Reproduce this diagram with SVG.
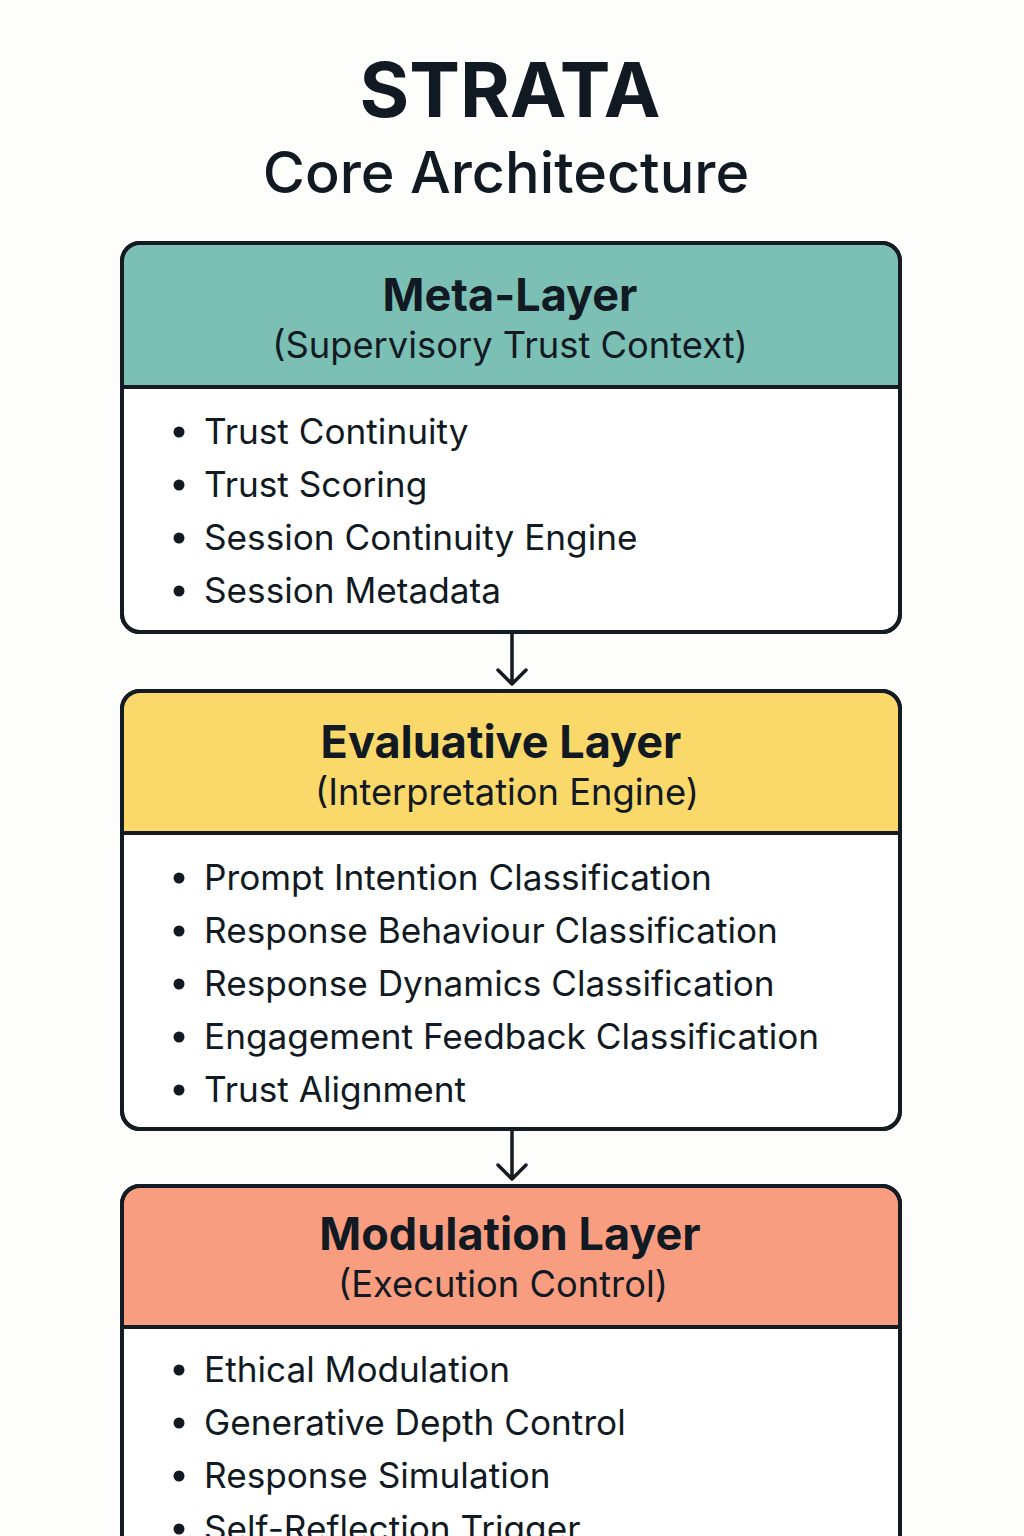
<svg xmlns="http://www.w3.org/2000/svg" width="1024" height="1536" viewBox="0 0 1024 1536">
<style>
.bg{fill:#fdfdfb}
.box{fill:#ffffff;stroke:#141b22;stroke-width:4}
.div{stroke:#141b22;stroke-width:4}
.t{font-family:Inter,"Noto Sans","Liberation Sans",sans-serif;fill:#111a22}
.title{font-size:76px;font-weight:700}
.sub{font-size:57.5px;font-weight:500}
.h{font-size:45px;font-weight:700;text-anchor:middle}
.hs{font-size:36.3px;text-anchor:middle}
.li{font-size:35.2px}
.dot{fill:#111a22}
.con{stroke:#141b22;stroke-width:3.5;fill:none;stroke-linecap:round;stroke-linejoin:round}
</style>
<rect class="bg" x="0" y="0" width="1024" height="1536"/>
<text class="t title" x="510" y="117" text-anchor="middle">STRATA</text>
<text class="t sub" x="506" y="193" text-anchor="middle">Core Architecture</text>

<g id="meta-layer">
<rect class="box" x="122" y="243" width="778" height="389" rx="18"/>
<path d="M124 387 V261 a16 16 0 0 1 16 -16 H882 a16 16 0 0 1 16 16 V387 Z" fill="#7bbfb5"/>
<line class="div" x1="122" y1="387" x2="900" y2="387"/>
<rect x="122" y="243" width="778" height="389" rx="18" fill="none" stroke="#141b22" stroke-width="4"/>
<text class="t h" x="510" y="311">Meta-Layer</text>
<text class="t hs" x="510" y="358">(Supervisory Trust Context)</text>
<circle class="dot" cx="179" cy="432" r="5.5"/><text class="t li" x="204" y="444">Trust Continuity</text>
<circle class="dot" cx="179" cy="485" r="5.5"/><text class="t li" x="204" y="497">Trust Scoring</text>
<circle class="dot" cx="179" cy="538" r="5.5"/><text class="t li" x="204" y="550">Session Continuity Engine</text>
<circle class="dot" cx="179" cy="591" r="5.5"/><text class="t li" x="204" y="603">Session Metadata</text>
</g>

<g id="evaluative-layer">
<rect class="box" x="122" y="691" width="778" height="438" rx="18"/>
<path d="M124 833 V709 a16 16 0 0 1 16 -16 H882 a16 16 0 0 1 16 16 V833 Z" fill="#fbd86a"/>
<line class="div" x1="122" y1="833" x2="900" y2="833"/>
<rect x="122" y="691" width="778" height="438" rx="18" fill="none" stroke="#141b22" stroke-width="4"/>
<text class="t h" x="501" y="758">Evaluative Layer</text>
<text class="t hs" x="507" y="805">(Interpretation Engine)</text>
<circle class="dot" cx="179" cy="878" r="5.5"/><text class="t li" x="204" y="890">Prompt Intention Classification</text>
<circle class="dot" cx="179" cy="931" r="5.5"/><text class="t li" x="204" y="943">Response Behaviour Classification</text>
<circle class="dot" cx="179" cy="984" r="5.5"/><text class="t li" x="204" y="996">Response Dynamics Classification</text>
<circle class="dot" cx="179" cy="1037" r="5.5"/><text class="t li" x="204" y="1049">Engagement Feedback Classification</text>
<circle class="dot" cx="179" cy="1090" r="5.5"/><text class="t li" x="204" y="1102">Trust Alignment</text>
</g>

<g id="modulation-layer">
<rect class="box" x="122" y="1186" width="778" height="400" rx="18"/>
<path d="M124 1327 V1204 a16 16 0 0 1 16 -16 H882 a16 16 0 0 1 16 16 V1327 Z" fill="#f99d80"/>
<line class="div" x1="122" y1="1327" x2="900" y2="1327"/>
<rect x="122" y="1186" width="778" height="400" rx="18" fill="none" stroke="#141b22" stroke-width="4"/>
<text class="t h" x="510" y="1250">Modulation Layer</text>
<text class="t hs" x="503" y="1297">(Execution Control)</text>
<circle class="dot" cx="179" cy="1370" r="5.5"/><text class="t li" x="204" y="1382">Ethical Modulation</text>
<circle class="dot" cx="179" cy="1423" r="5.5"/><text class="t li" x="204" y="1435">Generative Depth Control</text>
<circle class="dot" cx="179" cy="1476" r="5.5"/><text class="t li" x="204" y="1488">Response Simulation</text>
<circle class="dot" cx="179" cy="1529" r="5.5"/><text class="t li" x="204" y="1541">Self-Reflection Trigger</text>
</g>

<g id="connectors">
<path class="con" d="M512 633 V684 M498 670 L512 684 L526 670"/>
<path class="con" d="M512 1130 V1179 M498 1165 L512 1179 L526 1165"/>
</g>
</svg>
